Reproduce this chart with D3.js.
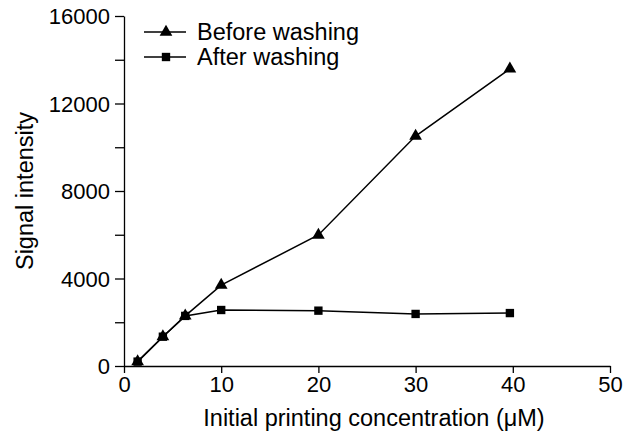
<!DOCTYPE html>
<html>
<head>
<meta charset="utf-8">
<script src="https://cdn.jsdelivr.net/npm/d3@7"></script>
<style>
  body { margin: 0; background: #fff; }
  text { font-family: "Liberation Sans", Arial, sans-serif; fill: #000; }
</style>
</head>
<body>
<div id="chart"></div>
<script>
const concentrations = [1.4, 4, 6.3, 10, 20, 30, 39.7];
const beforeWashing = [200, 1340, 2290, 3700, 5990, 10510, 13580];
const afterWashing = [200, 1340, 2290, 2560, 2530, 2380, 2420];
const xTicks = [0, 10, 20, 30, 40, 50];
const yTicks = [0, 4000, 8000, 12000, 16000];
const yMinorTicks = [2000, 6000, 10000, 14000];
const seriesNames = ["Before washing", "After washing"];

const width = 624, height = 436;
const margin = { left: 124, right: 14, top: 16, bottom: 70 };

const svg = d3.select("#chart")
  .append("svg")
    .attr("width", width)
    .attr("height", height);

const x = d3.scaleLinear().domain([0, 50]).range([margin.left, width - margin.right]);
const y = d3.scaleLinear().domain([0, 16000]).range([height - margin.bottom, margin.top]);

// x axis
const xAxis = svg.append("g")
  .attr("transform", "translate(0," + y(0) + ")")
  .call(d3.axisBottom(x).tickValues(xTicks).tickSize(7).tickPadding(3).tickSizeOuter(0));
xAxis.selectAll("text").style("font-size", "22px");

// y axis
const yAxis = svg.append("g")
  .attr("transform", "translate(" + x(0) + ",0)")
  .call(d3.axisLeft(y).tickValues(yTicks).tickSize(9).tickPadding(5).tickSizeOuter(0).tickFormat(d3.format("d")));
yAxis.selectAll("text").style("font-size", "22px").attr("dy", "0.36em");

svg.append("g")
  .attr("transform", "translate(" + x(0) + ",0)")
  .call(d3.axisLeft(y).tickValues(yMinorTicks).tickSize(9).tickSizeOuter(0).tickFormat(""))
  .select(".domain").remove();

svg.selectAll(".domain, .tick line").attr("stroke", "#000").attr("stroke-width", 1.3);

// axis labels
svg.append("text")
  .attr("x", (x(0) + x(50)) / 2 + 7)
  .attr("y", 426)
  .attr("text-anchor", "middle")
  .style("font-size", "23.5px")
  .text("Initial printing concentration (μM)");

svg.append("text")
  .attr("transform", "translate(33," + y(8000) + ") rotate(-90)")
  .attr("text-anchor", "middle")
  .style("font-size", "23.5px")
  .text("Signal intensity");

// lines
const series = [
  { name: seriesNames[0], values: beforeWashing, shape: d3.symbolTriangle, size: 70 },
  { name: seriesNames[1], values: afterWashing, shape: d3.symbolSquare, size: 70 }
];

const line = d3.line()
  .x(function(d) { return x(d[0]); })
  .y(function(d) { return y(d[1]); });

series.forEach(function(s) {
  const pts = concentrations.map(function(c, i) { return [c, s.values[i]]; });
  svg.append("path")
    .datum(pts)
    .attr("fill", "none")
    .attr("stroke", "#000")
    .attr("stroke-width", 1.5)
    .attr("d", line);
  svg.selectAll(null)
    .data(pts)
    .enter()
    .append("path")
    .attr("transform", function(d) { return "translate(" + x(d[0]) + "," + y(d[1]) + ")"; })
    .attr("d", d3.symbol().type(s.shape).size(s.size))
    .attr("fill", "#000");
});

// legend
const legend = svg.append("g");
series.forEach(function(s, i) {
  const ly = 32 + i * 25;
  legend.append("line")
    .attr("x1", 144).attr("x2", 186)
    .attr("y1", ly).attr("y2", ly)
    .attr("stroke", "#000").attr("stroke-width", 1.5);
  legend.append("path")
    .attr("transform", "translate(166," + ly + ")")
    .attr("d", d3.symbol().type(s.shape).size(s.size))
    .attr("fill", "#000");
  legend.append("text")
    .attr("x", 197)
    .attr("y", ly)
    .attr("dy", "0.36em")
    .style("font-size", "23.5px")
    .text(s.name);
});
</script>
</body>
</html>
